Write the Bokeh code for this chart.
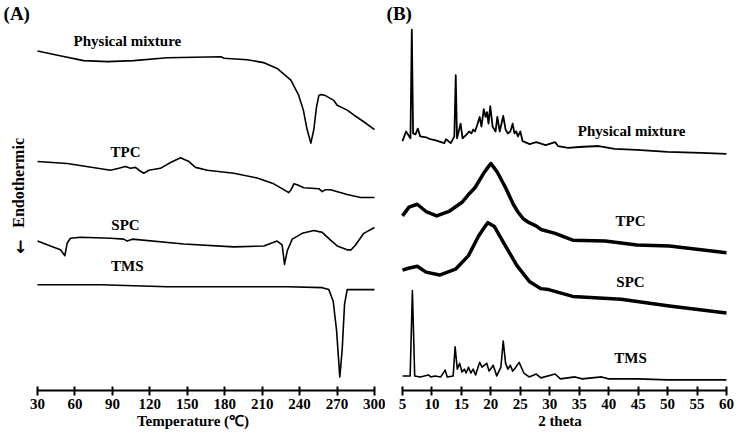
import math
from bokeh.plotting import figure
from bokeh.layouts import row
from bokeh.models import Range1d, FixedTicker, Label
from bokeh.embed import file_html
from bokeh.resources import INLINE

# ---------------- Panel A: DSC (temperature in degC, heat flow in a.u., curves offset) ----------------
dsc_ticks = [30, 60, 90, 120, 150, 180, 210, 240, 270, 300]

pm_dsc_t = [30, 48, 67, 86, 107, 134, 177, 179.5, 198, 211, 222, 233, 239, 243, 246, 249,
            251.4, 253.5, 255.4, 257.3, 260.7, 267.4, 270.1, 278.1, 283.4, 291.4, 300]
pm_dsc_hf = [350, 345, 340, 339, 340, 343, 344, 342.5, 341, 338, 332, 320, 305, 289, 269, 255,
             269, 292, 304, 305, 304, 299, 294, 289, 284, 277, 269]

tpc_dsc_t = [30, 53.8, 88.5, 95.1, 100.5, 104.5, 108.5, 112.5, 115.2, 119.2, 128.5, 136.6, 144.6,
             151.3, 156.6, 166, 187.3, 206, 219.3, 227.3, 231.3, 233.2, 235.4, 238, 243.4, 255.4,
             258.1, 260.7, 264.8, 278.1, 288.8, 300]
tpc_dsc_hf = [236, 234, 227, 229, 231, 229, 230, 226, 224, 227, 229, 235, 240,
              236, 230, 227, 224, 219, 213, 207, 204, 207, 213, 212, 209, 208,
              205, 207, 207, 202, 199, 199]

spc_dsc_t = [30, 40.4, 48.4, 51.9, 53.8, 56.4, 64.4, 88.5, 99.1, 101.9, 105.9, 147.2, 187.3,
             211.3, 222, 226, 227.9, 230.1, 234.1, 242.1, 251.4, 258.1, 264.8, 270.1, 278.1,
             281.3, 284.8, 291.4, 300]
spc_dsc_hf = [154, 149, 145, 139, 152, 157, 158, 157, 156, 154, 156, 151, 148,
              149, 154, 150, 130, 144, 156, 162, 165, 163, 155, 149, 145,
              145, 150, 162, 168]

tms_dsc_t = [30, 80.5, 133.9, 230, 258.1, 263.4, 266.9, 269.6, 272.2, 274.1, 276, 278.1, 300]
tms_dsc_hf = [109, 109, 107, 107, 106, 104, 92, 62, 14, 42, 89, 104, 104]

# ---------------- Panel B: XRD (2 theta, intensity in a.u., curves offset) ----------------
xrd_ticks = [5, 10, 15, 20, 25, 30, 35, 40, 45, 50, 55, 60]

pm_xrd_2t = [5, 5.6, 6.35, 6.58, 6.8, 7.2, 7.6, 8.0, 9.0, 9.7,
             10.5, 12.1, 12.4, 13.2, 13.8, 14.04, 14.25, 14.86, 15.2, 15.9,
             16.3, 16.7, 17.0, 17.3, 17.7, 18.1, 18.4, 18.8, 19.1, 19.35,
             19.6, 19.9, 20.3, 20.8, 21.1, 21.5, 22.1, 22.5, 22.9, 23.3,
             23.7, 24.0, 24.3, 24.6, 25.0, 25.4, 26.6, 27.7, 29.3, 30.9,
             31.4, 33.1, 35, 38.3, 41, 44.8, 50, 55.7, 60]
pm_xrd_i = [257, 267, 260, 372, 265, 264, 270, 262, 261, 259,
            258, 255, 259, 255, 262, 325, 260, 275, 260, 264,
            267, 265, 269, 267, 274, 282, 272, 290, 282, 287,
            275, 293, 272, 267, 282, 267, 283, 269, 265, 267,
            275, 265, 267, 262, 267, 257, 254, 256, 253, 256,
            252, 250, 251, 252, 249, 248, 246, 245, 244]

tpc_xrd_2t = [5, 6.1, 7.5, 9.1, 10.8, 13.0, 15.1, 16.2, 17.3, 18.9, 19.5, 20.0, 20.5, 21.1,
              21.8, 22.5, 23.8, 24.6, 25.5, 26.5, 27.6, 28.5, 30.9, 33.9, 39.4, 44.8, 50.3, 60]
tpc_xrd_i = [180, 189, 192, 184, 180, 185, 194, 202, 209, 225, 230, 234, 230, 225,
             217, 209, 192, 184, 177, 173, 170, 166, 162, 155, 154, 150, 149, 142]

spc_xrd_2t = [5, 6, 7.5, 9, 11.3, 14.0, 16.2, 17.9, 19.0, 19.5, 20.6, 22.2, 24.4, 26.6,
              28.5, 29.8, 33.9, 42.1, 50.3, 60]
spc_xrd_i = [124, 126, 128, 122, 119, 125, 139, 159, 169, 173, 169, 152, 129, 112,
             105, 104, 97, 94, 87, 80]

tms_xrd_2t = [5, 6.3, 6.68, 7.07, 8, 9.4, 9.8, 10.5, 11.5, 12.24,
              12.6, 13.6, 13.93, 14.3, 14.7, 15.1, 15.5, 15.8, 16.2, 16.6,
              17.0, 17.4, 18.1, 18.5, 19.3, 19.7, 20.4, 21.0, 21.7, 22.1,
              22.5, 22.9, 23.3, 23.7, 24.1, 24.8, 25.6, 26.5, 27.7, 28.5,
              30.9, 31.8, 34.3, 35.5, 38.8, 40, 45, 50, 55, 60]
tms_xrd_i = [15, 15, 103, 15, 14, 16, 14, 15, 14, 21,
             14, 15, 45, 22, 28, 19, 22, 18, 24, 18,
             22, 16, 29, 24, 28, 20, 26, 15, 24, 51,
             28, 22, 26, 20, 23, 29, 18, 14, 17, 13,
             17, 12, 14, 12, 14, 12, 12, 11, 11, 11]

SERIF = "Liberation Serif"


def make_fig(width, xr, ticks, bounds, label):
    f = figure(width=width, height=431, output_backend="svg", toolbar_location=None,
               x_range=Range1d(*xr), y_range=Range1d(0, 402), y_axis_location=None,
               min_border_left=0, min_border_right=0, min_border_top=0, min_border_bottom=0,
               outline_line_color=None, background_fill_color="white",
               border_fill_color="white")
    f.grid.visible = False
    ax = f.xaxis[0]
    ax.bounds = bounds
    ax.ticker = FixedTicker(ticks=ticks)
    ax.axis_line_width = 2
    ax.axis_line_color = "black"
    ax.major_tick_line_width = 2
    ax.major_tick_line_color = "black"
    ax.major_tick_in = 4
    ax.major_tick_out = 5
    ax.minor_tick_line_color = None
    ax.major_label_text_font = SERIF
    ax.major_label_text_font_style = "bold"
    ax.major_label_text_font_size = "15px"
    ax.major_label_text_color = "black"
    ax.major_label_text_line_height = 1.0
    ax.major_label_standoff = 3
    ax.axis_label = label
    ax.axis_label_text_font = SERIF
    ax.axis_label_text_font_style = "bold"
    ax.axis_label_text_font_size = "15px"
    ax.axis_label_text_color = "black"
    ax.axis_label_text_line_height = 1.0
    ax.axis_label_standoff = 1
    return f


def add_label(f, x, y, text, size="15px", align="center", angle=0.0, font=SERIF):
    f.add_layout(Label(x=x, y=y, text=text, text_font=font,
                       text_font_style="bold", text_font_size=size, text_color="black",
                       text_align=align, text_baseline="middle", angle=angle))


# frames start at the canvas edge so that panel letters and the side label stay inside
pa = make_fig(385, (0.356, 308.81), dsc_ticks, (30, 300), "Temperature (\u2103)")
pb = make_fig(349, (2.114, 61.36), xrd_ticks, (5, 60), "2 theta")

# DSC curves
for t, hf in [(pm_dsc_t, pm_dsc_hf), (tpc_dsc_t, tpc_dsc_hf),
              (spc_dsc_t, spc_dsc_hf), (tms_dsc_t, tms_dsc_hf)]:
    pa.line(t, hf, line_color="black", line_width=1.6, line_join="round")

# XRD curves
pb.line(pm_xrd_2t, pm_xrd_i, line_color="black", line_width=1.8, line_join="round")
pb.line(tpc_xrd_2t, tpc_xrd_i, line_color="black", line_width=3.5, line_join="round")
pb.line(spc_xrd_2t, spc_xrd_i, line_color="black", line_width=3.5, line_join="round")
pb.line(tms_xrd_2t, tms_xrd_i, line_color="black", line_width=1.6, line_join="round")

# panel A texts
add_label(pa, 102, 360, "Physical mixture")
add_label(pa, 100.5, 246, "TPC")
add_label(pa, 100.5, 171, "SPC")
add_label(pa, 102, 128, "TMS")
add_label(pa, 2.8, 389, "(A)", size="19px", align="left")
add_label(pa, 14.8, 214, "Endothermic", size="16px", angle=math.pi / 2)
add_label(pa, 16.4, 148, "\u2193", size="17px", font="DejaVu Sans")

# panel B texts
add_label(pb, 43.9, 268, "Physical mixture")
add_label(pb, 43.7, 175, "TPC")
add_label(pb, 43.7, 112, "SPC")
add_label(pb, 43.7, 33, "TMS")
add_label(pb, 2.3, 389, "(B)", size="19px", align="left")

layout = row(pa, pb, spacing=0)
open("out.html", "w").write(file_html(layout, INLINE))
